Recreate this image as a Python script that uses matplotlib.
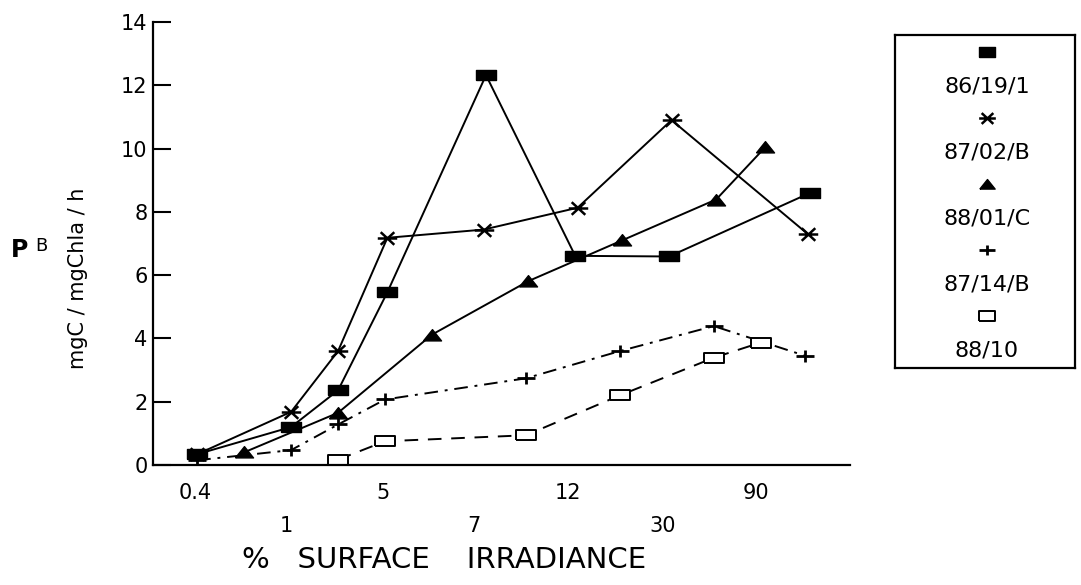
import numpy as np
import matplotlib
matplotlib.use("Agg")
import matplotlib.pyplot as plt
from matplotlib.path import Path

plt.rcParams["font.family"] = ["DejaVu Sans"]

# position along the irradiance axis, P^B (mgC / mgChla / h)
x_8619 = [0, 2, 3, 4.05, 6.15, 8.05, 10.05, 13.05]
y_8619 = [0.34, 1.20, 2.36, 5.46, 12.32, 6.61, 6.59, 8.60]

x_8702 = [0, 2, 3, 4.05, 6.1, 8.1, 10.1, 13.0]
y_8702 = [0.34, 1.68, 3.60, 7.18, 7.44, 8.13, 10.90, 7.30]

x_8801 = [1, 3, 5, 7.05, 9.05, 11.05, 12.1]
y_8801 = [0.40, 1.65, 4.12, 5.81, 7.10, 8.39, 10.05]

x_8714 = [0, 2, 3, 4, 7, 9, 11, 12.95]
y_8714 = [0.15, 0.47, 1.28, 2.07, 2.74, 3.60, 4.39, 3.45]

x_8810 = [3, 4, 7, 9, 11, 12]
y_8810 = [0.17, 0.75, 0.94, 2.20, 3.39, 3.87]

stations = ["86/19/1", "87/02/B", "88/01/C", "87/14/B", "88/10"]

# irradiance labels, alternating between two rows under the axis
top_labels = ["0.4", "5", "12", "90"]
top_pos = [-0.05, 3.95, 7.9, 11.9]
low_labels = ["1", "7", "30"]
low_pos = [1.9, 5.9, 9.9]

# custom marker shapes
rect = [(-1, -0.55), (1, -0.55), (1, 0.55), (-1, 0.55), (-1, -0.55)]
tri = [(-1, -0.6), (1, -0.6), (0, 0.65), (-1, -0.6)]
star = Path([(-1, 0), (1, 0), (-0.7, -0.65), (0.7, 0.65), (-0.7, 0.65), (0.7, -0.65)],
            [Path.MOVETO, Path.LINETO, Path.MOVETO, Path.LINETO, Path.MOVETO, Path.LINETO])
plus = Path([(-1, 0), (1, 0), (0, -0.65), (0, 0.65)],
            [Path.MOVETO, Path.LINETO, Path.MOVETO, Path.LINETO])

styles = [
    dict(ls="-", marker=rect, ms=14, mfc="black", mec="black", mew=1.0),
    dict(ls="-", marker=star, ms=14, mfc="none", mec="black", mew=1.8),
    dict(ls="-", marker=tri, ms=13, mfc="black", mec="black", mew=1.0),
    dict(ls=(0, (7, 3.5, 1.5, 3.5)), marker=plus, ms=13, mfc="none", mec="black", mew=2.0),
    dict(ls=(0, (7, 5)), marker=rect, ms=14, mfc="white", mec="black", mew=1.4),
]
series = [(x_8619, y_8619), (x_8702, y_8702), (x_8801, y_8801),
          (x_8714, y_8714), (x_8810, y_8810)]

W, H = 1081, 585
fig = plt.figure(figsize=(W / 100, H / 100), dpi=100)
ax = fig.add_axes([153 / W, 1 - 465 / H, (850 - 153) / W, (465 - 22) / H])

for (xs, ys), st in zip(series, styles):
    ax.plot(xs, ys, color="black", lw=1.4, **st)

ax.set_xlim(-0.94, 13.9)
ax.set_ylim(0, 14)
ax.spines["top"].set_visible(False)
ax.spines["right"].set_visible(False)
ax.spines["left"].set_linewidth(1.6)
ax.spines["bottom"].set_linewidth(1.6)

ax.set_yticks(np.arange(0, 15, 2))
ax.tick_params(axis="y", direction="in", length=13, width=1.5, pad=4, labelsize=15)

ax.set_xticks(top_pos)
ax.set_xticklabels(top_labels)
ax.set_xticks(low_pos, minor=True)
ax.set_xticklabels(low_labels, minor=True)
ax.tick_params(axis="x", which="major", length=0, pad=13, labelsize=15)
ax.tick_params(axis="x", which="minor", length=0, pad=37, labelsize=15)

fig.text(444 / W, 1 - 560 / H, "%   SURFACE    IRRADIANCE", fontsize=21,
         ha="center", va="center")
fig.text(78 / W, 1 - 278 / H, "mgC / mgChla / h", fontsize=15,
         rotation=90, ha="center", va="center")
fig.text(20 / W, 1 - 250 / H, "P", fontsize=17, fontweight="bold",
         ha="center", va="center")
fig.text(41 / W, 1 - 246 / H, "B", fontsize=13, ha="center", va="center")

# stacked legend: marker above each station label
lg = fig.add_axes([895 / W, 1 - 368 / H, 180 / W, 333 / H])
lg.set_xlim(0, 180)
lg.set_ylim(333, 0)
lg.set_xticks([])
lg.set_yticks([])
for sp in lg.spines.values():
    sp.set_linewidth(1.6)
for i, (name, st) in enumerate(zip(stations, styles)):
    mk = {k: v for k, v in st.items() if k != "ls"}
    mk["ms"] = st["ms"] - 2
    lg.plot([92], [17 + 66 * i], ls="none", color="black", **mk)
    lg.text(92, 52 + 66 * i, name, fontsize=16, ha="center", va="center")

fig.savefig("out.png", dpi=100)
